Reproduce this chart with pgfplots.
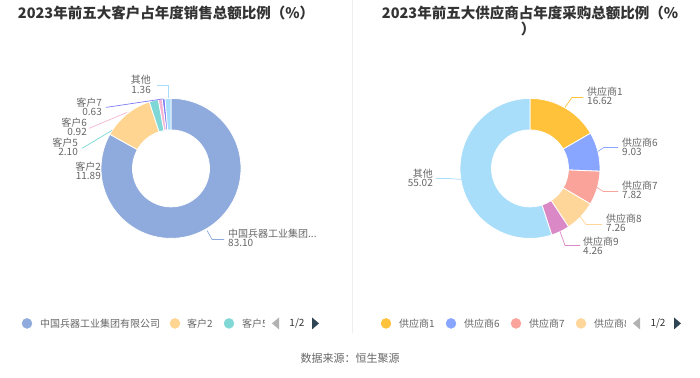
\documentclass[border=0pt]{standalone}
\usepackage{pgfplots}
\pgfplotsset{compat=1.18}
\usepackage{fontspec}
\setmainfont{Noto Sans CJK SC}
\definecolor{cA}{HTML}{8FAADC}
\definecolor{cB}{HTML}{FFD591}
\definecolor{cC}{HTML}{80D8D6}
\definecolor{cD}{HTML}{F5B5D3}
\definecolor{cE}{HTML}{7B7BF5}
\definecolor{cF}{HTML}{A8DEFA}
\definecolor{dA}{HTML}{FFC23A}
\definecolor{dB}{HTML}{88A6FF}
\definecolor{dC}{HTML}{F9A39A}
\definecolor{dD}{HTML}{FFD699}
\definecolor{dE}{HTML}{DA88C6}
\definecolor{dF}{HTML}{A8DEFA}
\definecolor{lblgray}{HTML}{666666}
\definecolor{ttl}{HTML}{333333}
\definecolor{pagerdark}{HTML}{2F4554}
\newcommand\lbl{\fontsize{10}{11}\selectfont}
\newcommand\ttlfont{\fontsize{14.5}{16}\selectfont\bfseries}
% #1 cx, #2 cy, #3 total, #4 list value/colour
\newcommand{\donut}[4]{%
  \gdef\cum{0}%
  \foreach \v/\c in {#4}{%
    \pgfmathsetmacro\a{90-\cum/#3*360}%
    \pgfmathsetmacro\b{90-(\cum+\v)/#3*360}%
    \pgfmathsetmacro\xa{#1+70*cos(\a)}%
    \pgfmathsetmacro\ya{#2-70*sin(\a)}%
    \pgfmathsetmacro\xb{#1+38.5*cos(\b)}%
    \pgfmathsetmacro\yb{#2-38.5*sin(\b)}%
    \edef\tmp{\noexpand\filldraw[fill=\c, draw=white, line width=0.8pt, line join=round] (axis cs:\xa,\ya) arc[start angle=\a, end angle=\b, radius=70pt] -- (axis cs:\xb,\yb) arc[start angle=\b, end angle=\a, radius=38.5pt] -- cycle;}%
    \tmp
    \pgfmathsetmacro\nc{\cum+\v}\global\let\cum\nc
  }%
}
\begin{document}
\begin{tikzpicture}
\begin{axis}[at={(0,0)}, anchor=south west, scale only axis, width=700pt, height=377pt,
  xmin=0, xmax=700, ymin=0, ymax=377, y dir=reverse, hide axis, clip=false]
\path (axis cs:0,0) rectangle (axis cs:700,377);
% separator
\draw[color=black!7, line width=0.8pt] (axis cs:352,0) -- (axis cs:352,333);
% titles
\node[text=ttl, font=\ttlfont] at (axis cs:166,13) {2023年前五大客户占年度销售总额比例（\%）};
\node[text=ttl, font=\ttlfont] at (axis cs:530,13) {2023年前五大供应商占年度采购总额比例（\%};
\node[text=ttl, font=\ttlfont] at (axis cs:528,29) {）};
% donuts
\donut{171}{168}{100}{83.10/cA, 11.89/cB, 2.10/cC, 0.92/cD, 0.63/cE, 1.36/cF}
\donut{530}{168}{100.01}{16.62/dA, 9.03/dB, 7.82/dC, 7.26/dD, 4.26/dE, 55.02/dF}
% left labels
\draw[cF, line width=0.7pt] (axis cs:168,98) -- (axis cs:168,85) -- (axis cs:157,85);
\node[anchor=east, text=lblgray, font=\lbl, inner sep=0pt] at (axis cs:151,79) {其他};
\node[anchor=east, text=lblgray, font=\lbl, inner sep=0pt] at (axis cs:151,89.5) {1.36};
\draw[cE, line width=0.7pt] (axis cs:163,98.5) -- (axis cs:106,107);
\node[anchor=east, text=lblgray, font=\lbl, inner sep=0pt] at (axis cs:102,102) {客户7};
\node[anchor=east, text=lblgray, font=\lbl, inner sep=0pt] at (axis cs:102,112) {0.63};
\draw[cD, line width=0.7pt] (axis cs:127,112) -- (axis cs:89,128);
\node[anchor=east, text=lblgray, font=\lbl, inner sep=0pt] at (axis cs:87,122) {客户6};
\node[anchor=east, text=lblgray, font=\lbl, inner sep=0pt] at (axis cs:87,132) {0.92};
\draw[cC, line width=0.7pt] (axis cs:112,130) -- (axis cs:82,148);
\node[anchor=east, text=lblgray, font=\lbl, inner sep=0pt] at (axis cs:78,142) {客户5};
\node[anchor=east, text=lblgray, font=\lbl, inner sep=0pt] at (axis cs:78,152) {2.10};
\node[anchor=east, text=lblgray, font=\lbl, inner sep=0pt] at (axis cs:101,166) {客户2};
\node[anchor=east, text=lblgray, font=\lbl, inner sep=0pt] at (axis cs:101,176) {11.89};
\draw[cA, line width=0.7pt] (axis cs:207,230) -- (axis cs:212,239) -- (axis cs:224,239);
\node[anchor=west, text=lblgray, font=\lbl, inner sep=0pt] at (axis cs:228,233) {中国兵器工业集团...};
\node[anchor=west, text=lblgray, font=\lbl, inner sep=0pt] at (axis cs:228,243) {83.10};
% right labels
\draw[dA, line width=0.7pt] (axis cs:565,107) -- (axis cs:572,97) -- (axis cs:583,97);
\node[anchor=west, text=lblgray, font=\lbl, inner sep=0pt] at (axis cs:587,91) {供应商1};
\node[anchor=west, text=lblgray, font=\lbl, inner sep=0pt] at (axis cs:587,101) {16.62};
\draw[dB, line width=0.7pt] (axis cs:598,151) -- (axis cs:604,147) -- (axis cs:618,147);
\node[anchor=west, text=lblgray, font=\lbl, inner sep=0pt] at (axis cs:622,142) {供应商6};
\node[anchor=west, text=lblgray, font=\lbl, inner sep=0pt] at (axis cs:622,152) {9.03};
\draw[dC, line width=0.7pt] (axis cs:597,187) -- (axis cs:603,191) -- (axis cs:618,191);
\node[anchor=west, text=lblgray, font=\lbl, inner sep=0pt] at (axis cs:622,185) {供应商7};
\node[anchor=west, text=lblgray, font=\lbl, inner sep=0pt] at (axis cs:622,195) {7.82};
\draw[dD, line width=0.7pt] (axis cs:580,216) -- (axis cs:586,224) -- (axis cs:602,224);
\node[anchor=west, text=lblgray, font=\lbl, inner sep=0pt] at (axis cs:606,218) {供应商8};
\node[anchor=west, text=lblgray, font=\lbl, inner sep=0pt] at (axis cs:606,228) {7.26};
\draw[dE, line width=0.7pt] (axis cs:560,231) -- (axis cs:565,245) -- (axis cs:580,245);
\node[anchor=west, text=lblgray, font=\lbl, inner sep=0pt] at (axis cs:583,241) {供应商9};
\node[anchor=west, text=lblgray, font=\lbl, inner sep=0pt] at (axis cs:583,251) {4.26};
\draw[dF, line width=0.7pt] (axis cs:461,179) -- (axis cs:448,178) -- (axis cs:436,178);
\node[anchor=east, text=lblgray, font=\lbl, inner sep=0pt] at (axis cs:433,173) {其他};
\node[anchor=east, text=lblgray, font=\lbl, inner sep=0pt] at (axis cs:433,183) {55.02};
% legends (left)
\addplot[only marks, mark=*, mark size=5pt, color=cA] coordinates {(27,323)};
\addplot[only marks, mark=*, mark size=5pt, color=cB] coordinates {(175,323)};
\addplot[only marks, mark=*, mark size=5pt, color=cC] coordinates {(229,323)};
\node[anchor=west, text=lblgray, font=\lbl, inner sep=0pt] at (axis cs:40,323) {中国兵器工业集团有限公司};
\node[anchor=west, text=lblgray, font=\lbl, inner sep=0pt] at (axis cs:187,323) {客户2};
\node[anchor=west, text=lblgray, font=\lbl, inner sep=0pt] at (axis cs:242,323) {客户5};
\fill[white] (axis cs:265,314) rectangle (axis cs:271,332);
\fill[black!30] (axis cs:272,323) -- (axis cs:279,317) -- (axis cs:279,329) -- cycle;
\node[text=ttl, font=\lbl, inner sep=0pt] at (axis cs:297,323) {1/2};
\fill[pagerdark] (axis cs:319,323) -- (axis cs:312,317) -- (axis cs:312,329) -- cycle;
% legends (right)
\addplot[only marks, mark=*, mark size=5pt, color=dA] coordinates {(386,323)};
\addplot[only marks, mark=*, mark size=5pt, color=dB] coordinates {(451,323)};
\addplot[only marks, mark=*, mark size=5pt, color=dC] coordinates {(516,323)};
\addplot[only marks, mark=*, mark size=5pt, color=dD] coordinates {(581,323)};
\node[anchor=west, text=lblgray, font=\lbl, inner sep=0pt] at (axis cs:399,323) {供应商1};
\node[anchor=west, text=lblgray, font=\lbl, inner sep=0pt] at (axis cs:464,323) {供应商6};
\node[anchor=west, text=lblgray, font=\lbl, inner sep=0pt] at (axis cs:529,323) {供应商7};
\node[anchor=west, text=lblgray, font=\lbl, inner sep=0pt] at (axis cs:594,323) {供应商8};
\fill[white] (axis cs:626,314) rectangle (axis cs:632,332);
\fill[black!30] (axis cs:633,323) -- (axis cs:640,317) -- (axis cs:640,329) -- cycle;
\node[text=ttl, font=\lbl, inner sep=0pt] at (axis cs:658,323) {1/2};
\fill[pagerdark] (axis cs:681,323) -- (axis cs:674,317) -- (axis cs:674,329) -- cycle;
% source
\node[text=lblgray, font=\fontsize{11}{12}\selectfont] at (axis cs:350,358) {数据来源：恒生聚源};
\end{axis}
\end{tikzpicture}
\end{document}
